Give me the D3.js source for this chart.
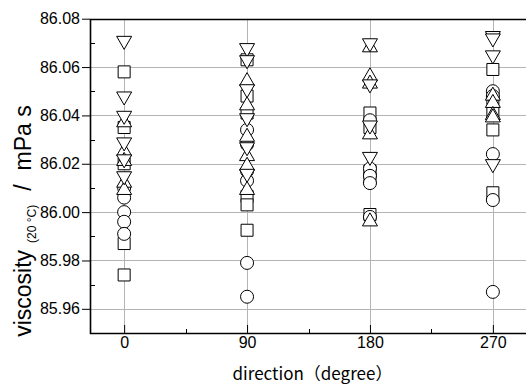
<!DOCTYPE html>
<html>
<head>
<meta charset="utf-8">
<script src="https://cdn.jsdelivr.net/npm/d3@7"></script>
<style>
  body { margin: 0; background: #fff; }
  svg { display: block; }
  .tick-label { font-family: "Liberation Sans", Arial, sans-serif; font-size: 16px; fill: #000; }
</style>
</head>
<body>
<svg id="chart" width="526" height="385"></svg>
<script>
// directions (degree) and the repeated measurements at each, one array per marker
const directions = [0, 90, 180, 270];

const squareValues = [
  [86.058, 86.035, 86.020, 85.987, 85.974],
  [86.063, 86.048, 86.041, 86.0065, 86.003, 85.9925],
  [86.041, 86.035, 86.017, 86.014, 85.999],
  [86.059, 86.047, 86.041, 86.034, 86.008]
];
const circleValues = [
  [86.010, 86.006, 86.000, 85.996, 85.991],
  [86.034, 86.028, 86.017, 86.013, 85.979, 85.965],
  [86.038, 86.018, 86.015, 86.012, 85.998],
  [86.050, 86.048, 86.024, 86.005, 85.967]
];
const upValues = [
  [86.038, 86.026, 86.022, 86.013, 86.010],
  [86.055, 86.045, 86.032, 86.024, 86.020, 86.010],
  [86.069, 86.057, 86.054, 86.033, 85.997],
  [86.049, 86.046, 86.041, 86.040]
];
const downValues = [
  [86.070, 86.047, 86.039, 86.028, 86.021, 86.014],
  [86.067, 86.062, 86.050, 86.038, 86.026, 86.015],
  [86.069, 86.052, 86.035, 86.022],
  [86.072, 86.071, 86.064, 86.019]
];

const yTicks = [85.96, 85.98, 86.00, 86.02, 86.04, 86.06, 86.08];
const yMinorTicks = [85.97, 85.99, 86.01, 86.03, 86.05, 86.07];
const xMinorTicks = [45, 135, 225];

const svg = d3.select('#chart');
const mLeft = 90, mTop = 18.7, mRight = 527, mBottom = 333;

const x = d3.scaleLinear().domain([-25, 295]).range([mLeft, mRight]);
const y = d3.scaleLinear().domain([85.95, 86.08]).range([mBottom, mTop]);

// triangles centred on their bounding box, like the original plot
const triUp = {
  draw(ctx, size) {
    const w = Math.sqrt(size), h = w * 0.87;
    ctx.moveTo(0, -h / 2); ctx.lineTo(w / 2, h / 2); ctx.lineTo(-w / 2, h / 2); ctx.closePath();
  }
};
const triDown = {
  draw(ctx, size) {
    const w = Math.sqrt(size), h = w * 0.87;
    ctx.moveTo(0, h / 2); ctx.lineTo(w / 2, -h / 2); ctx.lineTo(-w / 2, -h / 2); ctx.closePath();
  }
};

// grid
const grid = svg.append('g').attr('stroke', '#b4b4b4').attr('stroke-width', 1);
grid.selectAll('.hg').data(yTicks.slice(0, -1)).enter().append('line')
  .attr('x1', mLeft).attr('x2', mRight)
  .attr('y1', d => Math.round(y(d)) + 0.5).attr('y2', d => Math.round(y(d)) + 0.5);
grid.selectAll('.vg').data(directions).enter().append('line')
  .attr('y1', mTop).attr('y2', mBottom)
  .attr('x1', d => Math.round(x(d)) + 0.5).attr('x2', d => Math.round(x(d)) + 0.5);

// axes
const yAxis = svg.append('g').attr('transform', `translate(${mLeft},0)`)
  .call(d3.axisLeft(y).tickValues(yTicks).tickFormat(d3.format('.2f')).tickSizeInner(8).tickSizeOuter(0).tickPadding(2));
yAxis.select('.domain').remove();
yAxis.selectAll('text').attr('class', 'tick-label').attr('font-size', null).attr('font-family', null);

svg.append('g').selectAll('line').data(yMinorTicks).enter().append('line')
  .attr('x1', mLeft).attr('x2', mLeft + 5)
  .attr('y1', d => Math.round(y(d)) + 0.5).attr('y2', d => Math.round(y(d)) + 0.5)
  .attr('stroke', '#000');

const xAxis = svg.append('g').attr('transform', `translate(0,${mBottom})`)
  .call(d3.axisBottom(x).tickValues(directions).tickSizeInner(-8).tickSizeOuter(0).tickPadding(4));
xAxis.select('.domain').remove();
xAxis.selectAll('text').attr('class', 'tick-label').attr('font-size', null).attr('font-family', null);

svg.append('g').selectAll('line').data(xMinorTicks).enter().append('line')
  .attr('y1', mBottom).attr('y2', mBottom - 4)
  .attr('x1', d => Math.round(x(d)) + 0.5).attr('x2', d => Math.round(x(d)) + 0.5)
  .attr('stroke', '#000');

// frame
svg.append('path')
  .attr('d', `M${mRight},${Math.round(mTop) + 0.5}H${mLeft + 0.5}V${mBottom + 0.5}H${mRight}`)
  .attr('fill', 'none').attr('stroke', '#000').attr('stroke-width', 1.6);

// markers
const series = [
  { values: squareValues, shape: d3.symbolSquare, size: 144 },
  { values: circleValues, shape: d3.symbolCircle, size: 133 },
  { values: upValues, shape: triUp, size: 225 },
  { values: downValues, shape: triDown, size: 225 }
];

series.forEach(s => {
  const pts = [];
  s.values.forEach((vals, i) => vals.forEach(v => pts.push({ dir: directions[i], v })));
  svg.append('g').selectAll('path').data(pts).enter().append('path')
    .attr('d', d3.symbol().type(s.shape).size(s.size)())
    .attr('transform', d => `translate(${x(d.dir)},${y(d.v)})`)
    .attr('fill', '#fff').attr('stroke', '#000').attr('stroke-width', 1);
});

// axis titles
svg.append('text')
  .attr('x', (mLeft + mRight) / 2 + 4).attr('y', 380)
  .attr('text-anchor', 'middle')
  .attr('font-family', '"Noto Sans CJK JP", sans-serif').attr('font-size', 17)
  .text('direction（degree）');

const yt = svg.append('text')
  .attr('transform', `translate(31,221) rotate(-90)`)
  .attr('text-anchor', 'middle')
  .attr('font-family', '"Liberation Sans", Arial, sans-serif').attr('font-size', 23);
yt.append('tspan').text('viscosity');
yt.append('tspan').attr('font-size', 12).attr('dx', 7).attr('dy', 5).text('(20 °C)');
yt.append('tspan').attr('dx', 14).attr('dy', -5).text('/');
yt.append('tspan').attr('dx', 14).text('mPa s');
</script>
</body>
</html>
